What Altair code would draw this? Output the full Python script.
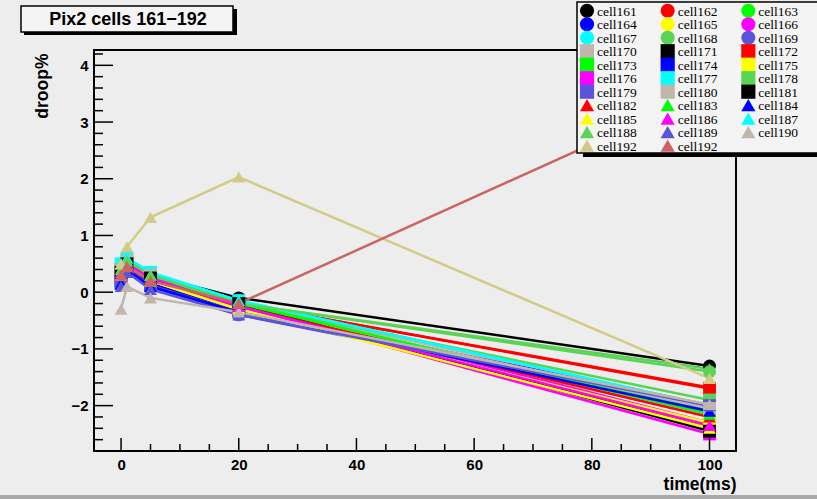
import altair as alt
import pandas as pd

# ---------------- data ----------------
times = [0, 1, 5, 20, 100]

series_ids = ["cell161", "cell162", "cell163", "cell164", "cell165", "cell166",
              "cell167", "cell168", "cell169", "cell170", "cell171", "cell172",
              "cell173", "cell174", "cell175", "cell176", "cell177", "cell178",
              "cell179", "cell180", "cell181", "cell182", "cell183", "cell184",
              "cell185", "cell186", "cell187", "cell188", "cell189", "cell190",
              "cell192a", "cell192b"]
series_labels = ["cell161", "cell162", "cell163", "cell164", "cell165", "cell166",
                 "cell167", "cell168", "cell169", "cell170", "cell171", "cell172",
                 "cell173", "cell174", "cell175", "cell176", "cell177", "cell178",
                 "cell179", "cell180", "cell181", "cell182", "cell183", "cell184",
                 "cell185", "cell186", "cell187", "cell188", "cell189", "cell190",
                 "cell192", "cell192"]

colors = ["#000000", "#ff0000", "#00ff00", "#0000ff", "#ffff00", "#ff00ff",
          "#00ffff", "#59d454", "#5954d8", "#c0b6ac", "#000000", "#ff0000",
          "#00ff00", "#0000ff", "#ffff00", "#ff00ff", "#00ffff", "#59d454",
          "#5954d8", "#c0b6ac", "#000000", "#ff0000", "#00ff00", "#0000ff",
          "#ffff00", "#ff00ff", "#00ffff", "#59d454", "#5954d8", "#c0b6ac",
          "#d2cb86", "#cc6464"]

shapes = (["circle"] * 9) + (["square"] * 12) + (["triangle-up"] * 11)

values = [
    [0.35, 0.50, 0.30, -0.10, -1.30],   # 161
    [0.40, 0.55, 0.30, -0.20, -1.68],   # 162
    [0.35, 0.50, 0.25, -0.22, -2.15],   # 163
    [0.20, 0.45, 0.15, -0.30, -2.05],   # 164
    [0.30, 0.50, 0.20, -0.30, -2.35],   # 165
    [0.35, 0.50, 0.25, -0.20, -2.30],   # 166
    [0.45, 0.60, 0.35, -0.15, -2.00],   # 167
    [0.40, 0.55, 0.30, -0.20, -1.40],   # 168
    [0.15, 0.40, 0.10, -0.40, -2.05],   # 169
    [0.40, 0.55, 0.30, -0.20, -2.00],   # 170
    [0.30, 0.45, 0.25, -0.25, -2.40],   # 171
    [0.40, 0.50, 0.25, -0.20, -1.70],   # 172
    [0.35, 0.50, 0.20, -0.25, -2.10],   # 173
    [0.20, 0.45, 0.15, -0.30, -2.00],   # 174
    [0.30, 0.45, 0.20, -0.30, -2.30],   # 175
    [0.35, 0.50, 0.20, -0.25, -2.50],   # 176
    [0.50, 0.60, 0.35, -0.15, -2.00],   # 177
    [0.40, 0.50, 0.25, -0.20, -1.90],   # 178
    [0.15, 0.40, 0.12, -0.35, -2.00],   # 179
    [0.40, 0.55, 0.30, -0.25, -2.05],   # 180
    [0.35, 0.50, 0.25, -0.20, -2.45],   # 181
    [0.30, 0.45, 0.20, -0.25, -2.20],   # 182
    [0.35, 0.50, 0.25, -0.20, -2.15],   # 183
    [0.15, 0.40, 0.10, -0.35, -2.10],   # 184
    [0.30, 0.50, 0.20, -0.30, -2.40],   # 185
    [0.35, 0.50, 0.25, -0.25, -2.35],   # 186
    [0.50, 0.60, 0.30, -0.15, -2.00],   # 187
    [0.40, 0.55, 0.30, -0.20, -1.35],   # 188
    [0.10, 0.35, 0.05, -0.40, -2.00],   # 189
    [-0.30, 0.10, -0.10, -0.35, -1.98], # 190
    [0.50, 0.80, 1.32, 2.03, -1.52],    # 192 (khaki)
    [0.30, 0.45, 0.20, -0.20, 3.55],    # 192 (indian red)
]

x_major = [0, 20, 40, 60, 80, 100]
x_minor = [5, 10, 15, 25, 30, 35, 45, 50, 55, 65, 70, 75, 85, 90, 95]
y_major = [-2, -1, 0, 1, 2, 3, 4]
y_minor = [-2.8, -2.6, -2.4, -2.2, -1.8, -1.6, -1.4, -1.2, -0.8, -0.6, -0.4,
           -0.2, 0.2, 0.4, 0.6, 0.8, 1.2, 1.4, 1.6, 1.8, 2.2, 2.4, 2.6, 2.8,
           3.2, 3.4, 3.6, 3.8, 4.2]

title_text = "Pix2 cells 161\u2212192"

# ---------------- tables ----------------
rows = []
for i, sid in enumerate(series_ids):
    for t, v in zip(times, values[i]):
        rows.append({"series": sid, "order": i, "time": t, "droop": v})
df = pd.DataFrame(rows)

leg_df = pd.DataFrame({
    "label": series_labels,
    "col": [i % 3 for i in range(len(series_ids))],
    "row": [i // 3 for i in range(len(series_ids))],
    "color": colors,
    "shape": shapes,
})

FONT = "Liberation Sans"
W, H = 642, 401
XDOM = [-4.6, 104.5]
YDOM = [-2.8, 4.27]

xscale = alt.Scale(domain=XDOM, nice=False, zero=False)
yscale = alt.Scale(domain=YDOM, nice=False, zero=False)

x_axis = alt.Axis(values=x_major, format="d", title="time(ms)",
                  titleAnchor="end", titleAlign="right", titleX=W, titleY=38,
                  titleBaseline="alphabetic", titleFontSize=17.5)
y_axis = alt.Axis(values=y_major, format="d", title="droop%", titleAngle=-90,
                  titleAnchor="end", titleAlign="right", titleBaseline="middle",
                  titleX=-52, titleY=3, titleFontSize=17.5)

base = alt.Chart(df)

lines = base.mark_line(strokeWidth=2.5).encode(
    x=alt.X("time:Q", scale=xscale, axis=x_axis),
    y=alt.Y("droop:Q", scale=yscale, axis=y_axis),
    color=alt.Color("series:N", scale=alt.Scale(domain=series_ids, range=colors), legend=None),
    detail="series:N",
    order="order:Q",
)

points = base.mark_point(filled=True, size=165, opacity=1).encode(
    x=alt.X("time:Q", scale=xscale, axis=None),
    y=alt.Y("droop:Q", scale=yscale, axis=None),
    color=alt.Color("series:N", scale=alt.Scale(domain=series_ids, range=colors), legend=None),
    shape=alt.Shape("series:N", scale=alt.Scale(domain=series_ids, range=shapes), legend=None),
)

# ticks drawn inside the frame (ROOT style)
ytick_major = alt.Chart(pd.DataFrame({"droop": y_major})).mark_rule(color="black", strokeWidth=1.5).encode(
    y=alt.Y("droop:Q", scale=yscale, axis=None), x=alt.value(0), x2=alt.value(19))
ytick_minor = alt.Chart(pd.DataFrame({"droop": y_minor})).mark_rule(color="black", strokeWidth=1.5).encode(
    y=alt.Y("droop:Q", scale=yscale, axis=None), x=alt.value(0), x2=alt.value(9))

xt_major = alt.Chart(pd.DataFrame({"time": x_major})).mark_rule(color="black", strokeWidth=1.5).encode(
    x=alt.X("time:Q", scale=xscale, axis=None), y=alt.value(H), y2=alt.value(H - 13))
xt_minor = alt.Chart(pd.DataFrame({"time": x_minor})).mark_rule(color="black", strokeWidth=1.5).encode(
    x=alt.X("time:Q", scale=xscale, axis=None), y=alt.value(H), y2=alt.value(H - 7))

# title box
tdf = pd.DataFrame({"t": [title_text]})
tshadow = alt.Chart(tdf).mark_rect(color="black").encode(
    x=alt.value(-70), x2=alt.value(143), y=alt.value(-41), y2=alt.value(-15))
tbox = alt.Chart(tdf).mark_rect(fill="#f4f4f4", stroke="black", strokeWidth=1.5).encode(
    x=alt.value(-73), x2=alt.value(139), y=alt.value(-44), y2=alt.value(-18))
ttext = alt.Chart(tdf).mark_text(font=FONT, fontWeight="bold", fontSize=18,
                                 color="black", baseline="middle", align="center").encode(
    x=alt.value(34), y=alt.value(-30), text="t:N")

# bottom bevel strip
strip = alt.Chart(tdf).mark_rect(color="#a9a9a9").encode(
    x=alt.value(-94), x2=alt.value(723), y=alt.value(445), y2=alt.value(449))

# ---------------- legend (ROOT TLegend style) ----------------
lshadow = alt.Chart(tdf).mark_rect(color="black").encode(
    x=alt.value(489), x2=alt.value(730), y=alt.value(101), y2=alt.value(107))
lbox = alt.Chart(tdf).mark_rect(fill="#f4f4f4", stroke="black", strokeWidth=1.5).encode(
    x=alt.value(483), x2=alt.value(730), y=alt.value(-48), y2=alt.value(103))

leg_x = alt.X("col:Q", scale=alt.Scale(domain=[0, 3], range=[493, 735], nice=False, zero=False), axis=None)
leg_y = alt.Y("row:Q", scale=alt.Scale(domain=[0, 10], range=[-39.3, 95.7], nice=False, zero=False), axis=None)

lsym = alt.Chart(leg_df).mark_point(filled=True, size=200, opacity=1).encode(
    x=leg_x, y=leg_y,
    color=alt.Color("color:N", scale=None),
    shape=alt.Shape("shape:N", scale=None),
)
ltext = alt.Chart(leg_df).mark_text(font="Liberation Serif", fontSize=13.5, color="black",
                                    align="left", baseline="middle", dx=10, dy=1).encode(
    x=leg_x, y=leg_y, text="label:N")

chart = alt.layer(
    strip, tshadow, tbox, ttext,
    lines, points,
    ytick_major, ytick_minor, xt_major, xt_minor,
    lshadow, lbox, lsym, ltext,
).resolve_scale(
    x="independent", y="independent", color="independent", shape="independent"
).resolve_axis(
    x="independent", y="independent"
).properties(
    width=W, height=H,
    autosize=alt.AutoSizeParams(type="none"),
    padding={"left": 94, "top": 50, "right": 81, "bottom": 48},
    background="#ededed",
).configure_view(
    stroke="black", strokeWidth=2, fill="#ededed"
).configure_axis(
    ticks=False, domain=False, grid=False,
    labelFont=FONT, labelFontWeight="bold", labelFontSize=15,
    labelColor="black", labelPadding=6,
    titleFont=FONT, titleFontWeight="bold", titleColor="black",
)

chart.save("out.html", embed_options={"renderer": "svg", "actions": False})
